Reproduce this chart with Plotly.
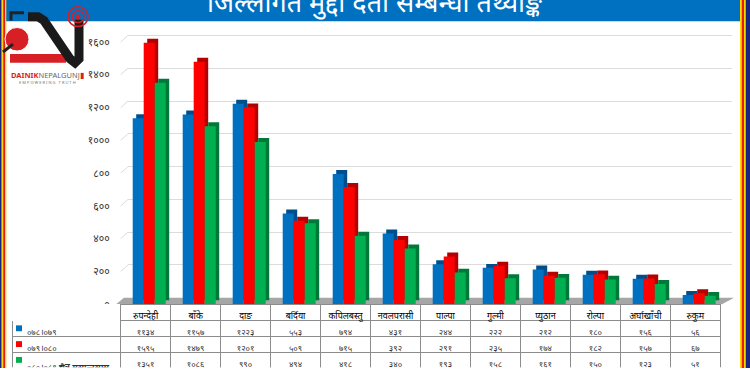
import plotly.graph_objects as go

# ---------------- data ----------------
categories = ["रुपन्देही", "बाँके", "दाङ", "बर्दिया", "कपिलबस्तु", "नवलपरासी",
              "पाल्पा", "गुल्मी", "प्युठान", "रोल्पा", "अर्घाखाँची", "रुकुम"]
series_names = ["०७८।०७९", "०७९।०८०", "०८०।०८१ चैत्र मसान्तसम्म"]
fy_078_079 = [1134, 1157, 1223, 553, 794, 431, 244, 222, 212, 180, 156, 56]
fy_079_080 = [1595, 1479, 1201, 509, 715, 392, 291, 235, 174, 182, 157, 67]
fy_080_081 = [1351, 1086, 990, 494, 418, 340, 193, 158, 161, 150, 123, 51]
y_ticks = [0, 200, 400, 600, 800, 1000, 1200, 1400, 1600]
title_text = "जिल्लागत मुद्दा दर्ता सम्बन्धी तथ्याङ्क"

DEV = str.maketrans("0123456789", "०१२३४५६७८९")
def dev(n):
    return str(n).translate(DEV)

W, H = 750, 375
def px(x):
    return x / W
def py(y):
    return 1 - y / H

front_cols = ["#0070C0", "#FF0000", "#00B050"]
side_cols = ["#004f8c", "#b30000", "#00783a"]
offsets = [-0.26, -0.04, 0.18]
BW = 0.22
DX = 0.07
DY = 24  # depth in value units

series = [fy_078_079, fy_079_080, fy_080_081]

PLOT_BOTTOM = 310
PLOT_TOP = 26
Y_MAX = 1700
HDR_H = 16.5
ROW_H = 16.1
BACK_SHIFT = 6.6

fig = go.Figure()
fig.add_trace(go.Scatter(x=[0], y=[0], mode="markers", marker=dict(opacity=0),
                         hoverinfo="skip", xaxis="x", yaxis="y"))

for i, vals in enumerate(series):
    fig.add_trace(go.Bar(x=list(range(len(categories))), y=vals, base=DY,
                         width=BW, offset=offsets[i] + DX,
                         marker=dict(color=side_cols[i], line=dict(width=0)),
                         hoverinfo="skip", xaxis="x2", yaxis="y2"))
    fig.add_trace(go.Bar(x=list(range(len(categories))), y=vals, name=series_names[i],
                         width=BW, offset=offsets[i],
                         marker=dict(color=front_cols[i], line=dict(width=0)),
                         hoverinfo="skip", xaxis="x2", yaxis="y2"))

pad = "\u00a0\u00a0\u00a0"
legend_col = [pad + series_names[0], pad + series_names[1],
              pad + "०८०।०८१ <b>चैत्र मसान्तसम्म</b>"]
cell_cols = [legend_col] + [[dev(series[0][k]), dev(series[1][k]), dev(series[2][k])]
                            for k in range(len(categories))]
fig.add_trace(go.Table(
    domain=dict(x=[px(12.3), px(720.7)], y=[0, (H - PLOT_BOTTOM) / H]),
    columnwidth=[108.4] + [50] * len(categories),
    header=dict(values=[""] + categories, height=HDR_H,
                fill_color="white",
                line=dict(color=["white"] + ["#8c8c8c"] * len(categories), width=1),
                font=dict(size=9, color="#000", family="Noto Sans"), align="center"),
    cells=dict(values=cell_cols, height=ROW_H, fill_color="white",
               line=dict(color="#8c8c8c", width=1),
               font=dict(size=8.5, color="#333", family="Noto Sans"),
               align=["left"] + ["center"] * len(categories)),
))

shapes = []
# legend squares inside the table
for i, c in enumerate(front_cols):
    yc = PLOT_BOTTOM + HDR_H + ROW_H * (i + 0.5)
    shapes.append(dict(type="rect", xref="paper", yref="paper", layer="above",
                       x0=px(16), x1=px(22), y0=py(yc + 3), y1=py(yc - 3),
                       fillcolor=c, line=dict(width=0)))
# 3D floor
shapes.append(dict(type="path", xref="paper", yref="paper", layer="below",
                   path="M %f,%f L %f,%f L %f,%f L %f,%f Z" % (
                       px(116), py(310), px(722), py(310), px(734), py(303.4), px(124), py(303.4)),
                   fillcolor="#a6a6a6", line=dict(width=0)))
# left wall grid segments (perspective)
for v in y_ticks[1:]:
    yf = PLOT_BOTTOM - v / Y_MAX * (PLOT_BOTTOM - PLOT_TOP)
    shapes.append(dict(type="line", xref="paper", yref="paper", layer="below",
                       x0=px(120.7), x1=px(128), y0=py(yf), y1=py(yf - BACK_SHIFT),
                       line=dict(color="#dcdcdc", width=1)))
# title banner
shapes.append(dict(type="rect", xref="paper", yref="paper", x0=px(6), x1=px(740),
                   y0=py(21.7), y1=1, fillcolor="#0070C0", line=dict(width=0), layer="below"))
# side stripes
for x0, x1, c in [(0, 1.7, "#1a237e"), (1.7, 3.2, "#FFD700"), (3.2, 5, "#E41B17"),
                  (5, 6.3, "#FFD700"),
                  (740, 741.7, "#FFD700"), (741.7, 744, "#E41B17"), (744, 745.7, "#FFD700"),
                  (745.7, 750, "#1a237e")]:
    shapes.append(dict(type="rect", xref="paper", yref="paper", x0=px(x0), x1=px(x1),
                       y0=0, y1=1, fillcolor=c, line=dict(width=0), layer="above"))

# logo
def path_of(pts):
    return "M " + " L ".join("%f,%f" % (px(a), py(b)) for a, b in pts)
shapes.append(dict(type="path", xref="paper", yref="paper", layer="above",
                   path=path_of([(11, 21), (11, 13), (24, 13)]),
                   line=dict(color="#222", width=3)))
shapes.append(dict(type="rect", xref="paper", yref="paper", layer="above",
                   x0=px(10), x1=px(66), y0=py(64), y1=py(55),
                   fillcolor="#d71f26", line=dict(width=0)))
shapes.append(dict(type="circle", xref="paper", yref="paper", layer="above",
                   x0=px(5), x1=px(29), y0=py(52), y1=py(28),
                   fillcolor="#d71f26", line=dict(color="white", width=1)))
shapes.append(dict(type="path", xref="paper", yref="paper", layer="above",
                   path=path_of([(3, 53), (13, 45)]), line=dict(color="#222", width=3)))
shapes.append(dict(type="path", xref="paper", yref="paper", layer="above",
                   path=path_of([(28, 17), (38, 17), (44, 21), (70, 60), (75, 64), (79, 60), (79, 20)]),
                   line=dict(color="#1a1a1a", width=9)))
for r, w in [(2.5, 0), (6, 1.5), (10, 1.5)]:
    if w == 0:
        shapes.append(dict(type="circle", xref="paper", yref="paper", layer="above",
                           x0=px(78 - r), x1=px(78 + r), y0=py(17 + r), y1=py(17 - r),
                           fillcolor="#d71f26", line=dict(width=0)))
    else:
        shapes.append(dict(type="circle", xref="paper", yref="paper", layer="above",
                           x0=px(78 - r), x1=px(78 + r), y0=py(17 + r), y1=py(17 - r),
                           fillcolor="rgba(0,0,0,0)", line=dict(color="#d71f26", width=w)))

annotations = [
    dict(text=title_text, x=0.5, y=py(1.5), xref="paper", yref="paper",
         xanchor="center", yanchor="middle", showarrow=False,
         font=dict(size=27, color="white", family="Noto Sans")),
    dict(text='<b><span style="color:#d71f26">DAINIK</span></b><span style="color:#666">NEPALGUNJ</span><span style="color:#d71f26">▮</span>',
         x=px(9), y=py(76), xref="paper", yref="paper", xanchor="left", yanchor="middle",
         showarrow=False, font=dict(size=7.5, family="Noto Sans")),
    dict(text="E M P O W E R I N G   T R U T H", x=px(17), y=py(84), xref="paper", yref="paper",
         xanchor="left", yanchor="middle", showarrow=False,
         font=dict(size=4, color="#777", family="Noto Sans")),
]

fig.update_layout(
    width=W, height=H, margin=dict(l=0, r=0, t=0, b=0),
    paper_bgcolor="white", plot_bgcolor="rgba(0,0,0,0)",
    showlegend=False, barmode="overlay",
    xaxis=dict(domain=[px(128), px(732)], range=[-0.5, 11.5], visible=False),
    yaxis=dict(domain=[py(PLOT_BOTTOM - BACK_SHIFT), py(PLOT_TOP - BACK_SHIFT)], range=[0, Y_MAX],
               tickvals=y_ticks, showticklabels=False, showgrid=True,
               gridcolor="#dcdcdc", gridwidth=1, zeroline=False, showline=False),
    xaxis2=dict(domain=[px(120.7), px(720.7)], range=[-0.5, 11.5], visible=False,
                anchor="y2"),
    yaxis2=dict(domain=[py(PLOT_BOTTOM), py(PLOT_TOP)], range=[0, Y_MAX], anchor="x2",
                tickvals=y_ticks, ticktext=[dev(v) for v in y_ticks],
                showgrid=False, zeroline=False, showline=False, ticks="",
                ticklabelstandoff=10,
                tickfont=dict(size=10.5, color="#333", family="Noto Sans")),
    shapes=shapes, annotations=annotations,
)

fig.write_html("out.html", config={"displayModeBar": False},
               post_script="document.body.style.margin='0';document.body.style.overflow='hidden';"
                           "document.documentElement.style.overflow='hidden';")
